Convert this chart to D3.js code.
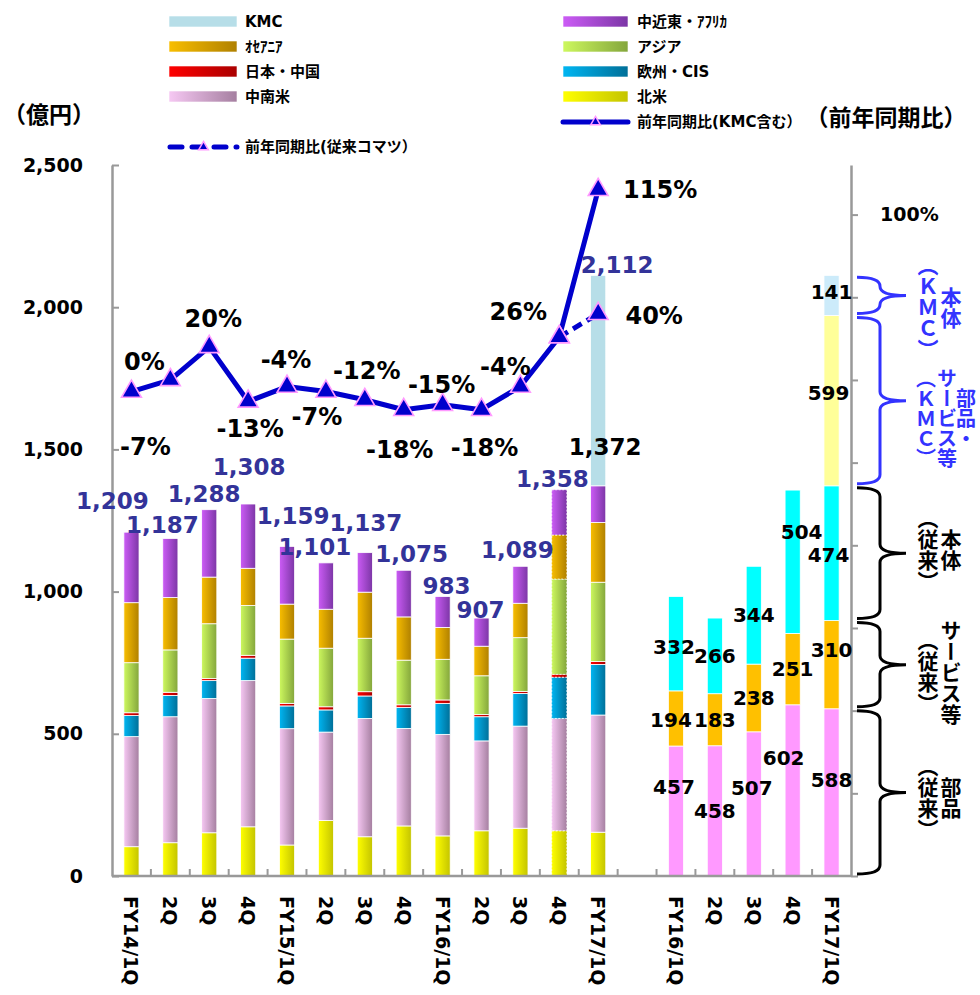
<!DOCTYPE html>
<html>
<head>
<meta charset="utf-8">
<script src="https://cdn.jsdelivr.net/npm/d3@7"></script>
<style>
  body { margin: 0; background: #fff; }
  svg text { font-weight: bold; }
</style>
</head>
<body>
<svg id="chart" width="980" height="995"></svg>
<script>
// ---- data (億円 / %) ----
const leftCats = ['FY14/1Q', '2Q', '3Q', '4Q', 'FY15/1Q', '2Q', '3Q', '4Q', 'FY16/1Q', '2Q', '3Q', '4Q', 'FY17/1Q'];
const rightCats = ['FY16/1Q', '2Q', '3Q', '4Q', 'FY17/1Q'];

// regional sales, bottom to top
const northAmerica     = [103, 117, 152, 173, 109, 195, 138, 176, 141, 159, 168, 159, 154];
const latinAmerica     = [387, 443, 472, 514, 409, 311, 416, 343, 357, 316, 359, 395, 412];
const europeCIS        = [74, 75, 63, 79, 80, 78, 79, 74, 109, 85, 115, 145, 178];
const japanChina       = [10, 11, 7, 10, 9, 11, 15, 9, 12, 8, 7, 10, 10];
const asia             = [176, 149, 193, 175, 226, 206, 188, 157, 143, 136, 189, 335, 279];
const oceania          = [211, 184, 164, 131, 123, 137, 162, 152, 112, 104, 121, 155, 210];
const middleEastAfrica = [248, 208, 237, 226, 203, 163, 139, 164, 109, 99, 130, 159, 129];
const kmcRegion        = [0, 0, 0, 0, 0, 0, 0, 0, 0, 0, 0, 0, 740];
const totals           = [1209, 1187, 1288, 1308, 1159, 1101, 1137, 1075, 983, 907, 1089, 1358, 2112];
const komatsuOnlyTotal = 1372;

// yoy growth
const yoyAll     = [-7, 0, 20, -13, -4, -7, -12, -18, -15, -18, -4, 26, 115];
const yoyKomatsu = [null, null, null, null, null, null, null, null, null, null, null, 26, 40];

// breakdown by type (right block)
const partsOld   = [457, 458, 507, 602, 588];
const serviceOld = [194, 183, 238, 251, 310];
const bodyOld    = [332, 266, 344, 504, 474];
const kmcParts   = [0, 0, 0, 0, 599];
const kmcBody    = [0, 0, 0, 0, 141];

const leftTicks = [0, 500, 1000, 1500, 2000, 2500];

// ---- styles / layout ----
const numFont = '"DejaVu Sans", Verdana, sans-serif';
const jpFont = '"Noto Sans CJK JP", sans-serif';
const mixFont = '"DejaVu Sans", "Noto Sans CJK JP", sans-serif';
const gray = '#999';
const lineBlue = '#0000CC';
const labelBlue = '#333399';

const regionKeys = ['na', 'la', 'eu', 'jc', 'asia', 'oce', 'mea', 'kmc'];
const regionColors = {
    na: ['#FFFF00', '#C4C400'], la: ['#F6C8F3', '#A57FA0'], eu: ['#00B6F2', '#006F98'],
    jc: ['#FF0000', '#AA0000'], asia: ['#CDF85E', '#84A63C'], oce: ['#F8BE00', '#B08000'],
    mea: ['#CC5CF6', '#7C36A6'], kmc: ['#B7DEE8', '#B7DEE8']
};
const typeKeys = ['parts', 'service', 'body', 'kmcParts', 'kmcBody'];
const typeColors = { parts: '#FF99FF', service: '#FFC000', body: '#00FFFF', kmcParts: '#FFFF99', kmcBody: '#CCEBFA' };

// label nudges (px) so labels don't collide, as in the original
const totalNudge = [[-19, -31], [-8, -13], [-5, -16], [1, -37], [6, -30], [-11, -16], [1, -30], [8, -16], [4, -10], [-1, -8], [-3, -16], [-7, -11], [19, -10]];
const pctNudge = [[14, 55], [-26, -18], [4, -28], [2, 28], [-1, -27], [-9, 25], [2, -29], [-4, 40], [-1, -20], [3, 38], [-15, -20], [-41, -25], [62, 0]];
const typeNudge = {
    parts:    [[-2, -24], [0, 0], [-2, -16], [-9, -32], [0, -12]],
    service:  [[-5, 2], [0, 0], [0, 0], [0, 0], [0, -15]],
    body:     [[-2, 3], [0, 0], [0, 0], [9, -30], [-3, 2]],
    kmcParts: [[0, 0], [0, 0], [0, 0], [0, 0], [-3, -8]],
    kmcBody:  [[0, 0], [0, 0], [0, 0], [0, 0], [0, -3]]
};

const X0 = 112, X1 = 851, Y0 = 876, Y1 = 165;

const svg = d3.select('#chart');
const defs = svg.append('defs');

// horizontal gradients for region bars
regionKeys.forEach(k => {
    const g = defs.append('linearGradient').attr('id', 'g-' + k)
        .attr('x1', 0).attr('x2', 1).attr('y1', 0).attr('y2', 0);
    g.append('stop').attr('offset', '0%').attr('stop-color', regionColors[k][0]);
    g.append('stop').attr('offset', '100%').attr('stop-color', regionColors[k][1]);
});

// ---- scales ----
const keys = leftCats.map((d, i) => 'L' + i).concat(['gap'], rightCats.map((d, i) => 'R' + i));
const labels = leftCats.concat([''], rightCats);
const x = d3.scaleBand().domain(keys).range([X0, X1]).paddingInner(0.61).paddingOuter(0.305);
const cx = k => x(k) + x.bandwidth() / 2;
const yL = d3.scaleLinear().domain([0, 2500]).range([Y0, Y1]);
const yR = d3.scaleLinear().domain([-300, 130]).range([Y0, Y1]);

// ---- stacked region bars ----
const leftTable = leftCats.map((c, i) => ({
    key: 'L' + i, na: northAmerica[i], la: latinAmerica[i], eu: europeCIS[i], jc: japanChina[i],
    asia: asia[i], oce: oceania[i], mea: middleEastAfrica[i], kmc: kmcRegion[i]
}));
const leftSeries = d3.stack().keys(regionKeys)(leftTable);

const barsG = svg.append('g');
leftSeries.forEach(s => {
    barsG.append('g').selectAll('rect')
        .data(s.filter(d => d[1] > d[0]))
        .join('rect')
        .attr('x', d => x(d.data.key))
        .attr('width', x.bandwidth())
        .attr('y', d => yL(d[1]))
        .attr('height', d => yL(d[0]) - yL(d[1]))
        .attr('fill', `url(#g-${s.key})`)
        .attr('stroke', '#fff')
        .attr('stroke-width', 0.8)
        .attr('stroke-dasharray', d => d.data.key === 'L11' ? '2,1.5' : null);
});

// ---- stacked type bars ----
const rightTable = rightCats.map((c, i) => ({
    key: 'R' + i, parts: partsOld[i], service: serviceOld[i], body: bodyOld[i],
    kmcParts: kmcParts[i], kmcBody: kmcBody[i]
}));
const rightSeries = d3.stack().keys(typeKeys)(rightTable);
rightSeries.forEach(s => {
    barsG.append('g').selectAll('rect')
        .data(s.filter(d => d[1] > d[0]))
        .join('rect')
        .attr('x', d => x(d.data.key))
        .attr('width', x.bandwidth())
        .attr('y', d => yL(d[1]))
        .attr('height', d => yL(d[0]) - yL(d[1]))
        .attr('fill', typeColors[s.key])
        .attr('stroke', '#fff')
        .attr('stroke-width', 0.8);
});

// ---- axes ----
const axL = svg.append('g').attr('transform', `translate(${X0},0)`)
    .call(d3.axisLeft(yL).tickValues(leftTicks).tickSize(-7).tickSizeOuter(0)
        .tickPadding(29).tickFormat(d3.format(',')));
const axR = svg.append('g').attr('transform', `translate(${X1},0)`)
    .call(d3.axisRight(yR).tickValues(d3.range(-300, 101, 50)).tickSize(7).tickSizeOuter(0)
        .tickPadding(22).tickFormat(d => d === 100 ? '100%' : ''));
[axL, axR].forEach(a => {
    a.select('.domain').attr('stroke', gray).attr('stroke-width', 2.5);
    a.selectAll('.tick line').attr('stroke', gray).attr('stroke-width', 2);
    a.selectAll('.tick text').attr('font-family', numFont).attr('font-size', 19)
        .attr('font-weight', 'bold').attr('fill', '#000');
});
// bottom axis
const axB = svg.append('g');
axB.append('line').attr('x1', X0).attr('x2', X1).attr('y1', Y0).attr('y2', Y0)
    .attr('stroke', gray).attr('stroke-width', 2.5);
axB.selectAll('line.t').data(d3.range(1, keys.length)).join('line').attr('class', 't')
    .attr('x1', i => X0 + i * x.step()).attr('x2', i => X0 + i * x.step())
    .attr('y1', Y0).attr('y2', Y0 - 7).attr('stroke', gray).attr('stroke-width', 2);
axB.selectAll('text').data(keys.filter(k => k !== 'gap')).join('text')
    .attr('transform', k => `translate(${cx(k)},${Y0 + 20}) rotate(90)`)
    .attr('dominant-baseline', 'central')
    .attr('font-family', numFont).attr('font-size', 19).attr('fill', '#000')
    .text(k => labels[keys.indexOf(k)]);

// ---- growth lines ----
const ptsAll = yoyAll.map((v, i) => ({ key: 'L' + i, v }));
const ptsKom = yoyKomatsu.map((v, i) => ({ key: 'L' + i, v }));
const line = d3.line().defined(d => d.v != null).x(d => cx(d.key)).y(d => yR(d.v));

svg.append('path').datum(ptsKom).attr('d', line)
    .attr('fill', 'none').attr('stroke', lineBlue).attr('stroke-width', 5)
    .attr('stroke-dasharray', '10,6');
svg.append('path').datum(ptsAll).attr('d', line)
    .attr('fill', 'none').attr('stroke', lineBlue).attr('stroke-width', 5)
    .attr('stroke-linejoin', 'round');

const tri = d3.symbol().type(d3.symbolTriangle).size(170);
svg.append('g').selectAll('path')
    .data(ptsAll.concat(ptsKom.filter(d => d.v != null)))
    .join('path')
    .attr('d', tri)
    .attr('transform', d => `translate(${cx(d.key)},${yR(d.v)})`)
    .attr('fill', lineBlue).attr('stroke', '#FF99FF').attr('stroke-width', 1.6);

// percent labels
svg.append('g').selectAll('text').data(ptsAll).join('text')
    .attr('x', (d, i) => cx(d.key) + pctNudge[i][0])
    .attr('y', (d, i) => yR(d.v) + pctNudge[i][1])
    .attr('text-anchor', 'middle').attr('dominant-baseline', 'central')
    .attr('font-family', numFont).attr('font-size', 24).attr('fill', '#000')
    .text(d => d.v + '%');
const lastKom = ptsKom[ptsKom.length - 1];
svg.append('text')
    .attr('x', cx(lastKom.key) + 56).attr('y', yR(lastKom.v) + 2)
    .attr('text-anchor', 'middle').attr('dominant-baseline', 'central')
    .attr('font-family', numFont).attr('font-size', 24).attr('fill', '#000')
    .text(lastKom.v + '%');

// ---- bar total labels ----
svg.append('g').selectAll('text').data(totals).join('text')
    .attr('x', (d, i) => cx('L' + i) + totalNudge[i][0])
    .attr('y', (d, i) => yL(d) + totalNudge[i][1])
    .attr('text-anchor', 'middle').attr('dominant-baseline', 'central')
    .attr('font-family', numFont).attr('font-size', 23).attr('fill', labelBlue)
    .text(d => d3.format(',')(d));
svg.append('text')
    .attr('x', cx('L12') + 7).attr('y', yL(komatsuOnlyTotal) - 39)
    .attr('text-anchor', 'middle').attr('dominant-baseline', 'central')
    .attr('font-family', numFont).attr('font-size', 23).attr('fill', '#000')
    .text(d3.format(',')(komatsuOnlyTotal));

// ---- type segment labels ----
rightSeries.forEach(s => {
    svg.append('g').selectAll('text')
        .data(s.map((d, i) => ({ d, i })).filter(o => o.d[1] > o.d[0]))
        .join('text')
        .attr('x', o => cx(o.d.data.key) + typeNudge[s.key][o.i][0])
        .attr('y', o => yL((o.d[0] + o.d[1]) / 2) + typeNudge[s.key][o.i][1])
        .attr('text-anchor', 'middle').attr('dominant-baseline', 'central')
        .attr('font-family', numFont).attr('font-size', 20).attr('fill', '#000')
        .text(o => o.d.data[s.key]);
});

// ---- braces on the right ----
function brace(x0, ya, yb) {
    const xs = x0 + 23, xt = x0 + 49, m = (ya + yb) / 2, r = Math.min(9, (yb - ya) / 4);
    return `M${x0},${ya} Q${xs},${ya} ${xs},${ya + r} L${xs},${m - r} Q${xs},${m} ${xt},${m}` +
        ` Q${xs},${m} ${xs},${m + r} L${xs},${yb - r} Q${xs},${yb} ${x0},${yb}`;
}
const braceText = {
    parts: ['部品', '（従来）'], service: ['サービス等', '（従来）'], body: ['本体', '（従来）'],
    kmcParts: ['部品・', 'サービス等', '（ＫＭＣ）'], kmcBody: ['本体', '（ＫＭＣ）']
};
const braceDy = { parts: 5, service: 7, body: -4, kmcParts: 18, kmcBody: 12 };
const lastIdx = rightCats.length - 1;
rightSeries.forEach(s => {
    const d = s[lastIdx];
    const kmc = s.key.startsWith('kmc');
    const col = kmc ? '#3333FF' : '#000';
    const ya = yL(d[1]) + 2, yb = yL(d[0]) - 2;
    svg.append('path').attr('d', brace(857, ya, yb))
        .attr('fill', 'none').attr('stroke', col).attr('stroke-width', 3);
    const cols = braceText[s.key];
    const xs = cols.length === 3 ? [966, 947, 926] : [951, 928];
    cols.forEach((t, j) => {
        svg.append('text')
            .attr('x', xs[j]).attr('y', (ya + yb) / 2 + braceDy[s.key])
            .style('writing-mode', 'vertical-rl')
            .attr('text-anchor', 'middle')
            .attr('font-family', jpFont).attr('font-size', cols.length === 3 ? 20 : 21).attr('fill', col)
            .text(t);
    });
});

// ---- titles ----
svg.append('text').attr('x', 49).attr('y', 113).attr('text-anchor', 'middle')
    .attr('dominant-baseline', 'central').attr('font-family', jpFont).attr('font-size', 23)
    .text('（億円）');
svg.append('text').attr('x', 886).attr('y', 116).attr('text-anchor', 'middle')
    .attr('dominant-baseline', 'central').attr('font-family', jpFont).attr('font-size', 23)
    .text('（前年同期比）');

// ---- legend ----
const legendLeft = [['kmc', 'KMC'], ['oce', 'ｵｾｱﾆｱ'], ['jc', '日本・中国'], ['la', '中南米']];
const legendRight = [['mea', '中近東・ｱﾌﾘｶ'], ['asia', 'アジア'], ['eu', '欧州・CIS'], ['na', '北米']];
const legend = svg.append('g');
function legendCol(items, x0, w, tx) {
    items.forEach(([k, name], i) => {
        const y = 22 + i * 25;
        legend.append('rect').attr('x', x0).attr('y', y - 6).attr('width', w).attr('height', 11)
            .attr('fill', `url(#g-${k})`).attr('stroke', '#fff').attr('stroke-width', 0.6);
        legend.append('text').attr('x', tx).attr('y', y).attr('dominant-baseline', 'central')
            .attr('font-family', mixFont).attr('font-size', 15).attr('fill', '#000').text(name);
    });
}
legendCol(legendLeft, 169, 68, 245);
legendCol(legendRight, 563, 65, 637);

function legendLine(x0, x1, y, dashed, tx, name) {
    legend.append('line').attr('x1', x0).attr('x2', x1).attr('y1', y).attr('y2', y)
        .attr('stroke', lineBlue).attr('stroke-width', 5).attr('stroke-linecap', 'round')
        .attr('stroke-dasharray', dashed ? '12,10' : null);
    legend.append('path').attr('d', d3.symbol().type(d3.symbolTriangle).size(40))
        .attr('transform', `translate(${(x0 + x1) / 2},${y})`)
        .attr('fill', lineBlue).attr('stroke', '#FF99FF').attr('stroke-width', 1.5);
    legend.append('text').attr('x', tx).attr('y', y).attr('dominant-baseline', 'central')
        .attr('font-family', mixFont).attr('font-size', 15).attr('fill', '#000').text(name);
}
legendLine(170, 237, 147, true, 245, '前年同期比(従来コマツ）');
legendLine(563, 628, 122, false, 637, '前年同期比(KMC含む）');
</script>
</body>
</html>
